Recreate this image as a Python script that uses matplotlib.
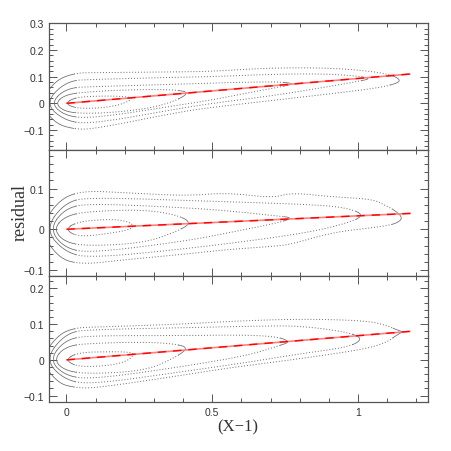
import matplotlib
matplotlib.use("Agg")
import matplotlib.pyplot as plt
from matplotlib.ticker import MultipleLocator, FixedLocator, FuncFormatter
import numpy as np

# ---------------- data ----------------
fit_x = [0.0, 1.18]
fit_y_top = [0.0, 0.110]
fit_y_mid = [0.0, 0.039]
fit_y_bot = [0.0, 0.080]

# contours (inner -> outer): left tip, x stations, upper edge, lower edge, right tip
top_left = [(-0.005, 0.0), (-0.04, 0.0), (-0.055, 0.0), (-0.075, 0.0), (-0.09, 0.0)]
top_x = [[0.03, 0.1, 0.18],
         [0.0, 0.1, 0.2, 0.3, 0.38],
         [0.0, 0.1, 0.39, 0.5, 0.65, 0.74],
         [0.0, 0.1, 0.39, 0.5, 0.73, 0.9, 1.0],
         [-0.04, 0.03, 0.1, 0.39, 0.5, 0.7, 0.9, 1.05, 1.12]]
top_up = [[0.022, 0.027, 0.027],
          [0.035, 0.045, 0.05, 0.052, 0.05],
          [0.058, 0.063, 0.072, 0.076, 0.08, 0.08],
          [0.085, 0.09, 0.098, 0.1, 0.11, 0.11, 0.102],
          [0.085, 0.114, 0.115, 0.118, 0.12, 0.133, 0.133, 0.12, 0.105]]
top_lo = [[-0.018, -0.019, -0.008],
          [-0.035, -0.038, -0.03, -0.015, 0.012],
          [-0.05, -0.055, -0.006, 0.013, 0.045, 0.063],
          [-0.07, -0.075, -0.019, 0.0, 0.032, 0.063, 0.082],
          [-0.075, -0.098, -0.095, -0.032, -0.015, 0.01, 0.035, 0.055, 0.07]]
top_tip = [(0.235, 0.02), (0.42, 0.04), (0.78, 0.073), (1.045, 0.093), (1.148, 0.085)]

mid_left = [(-0.005, 0.0), (-0.046, 0.0), (-0.06, 0.0), (-0.075, 0.0), (-0.09, 0.0)]
mid_x = [[0.04, 0.15, 0.21],
         [0.0, 0.1, 0.27, 0.38],
         [0.0, 0.1, 0.41, 0.56, 0.72],
         [0.0, 0.1, 0.45, 0.8, 0.95],
         [-0.03, 0.05, 0.2, 0.41, 0.55, 0.71, 0.77, 0.91, 1.05, 1.09, 1.13]]
mid_up = [[0.019, 0.025, 0.02],
          [0.035, 0.045, 0.048, 0.035],
          [0.055, 0.063, 0.053, 0.045, 0.033],
          [0.07, 0.078, 0.07, 0.062, 0.055],
          [0.07, 0.095, 0.09, 0.082, 0.09, 0.077, 0.09, 0.08, 0.074, 0.06, 0.045]]
mid_lo = [[-0.019, -0.01, -0.002],
          [-0.035, -0.041, -0.033, -0.005],
          [-0.05, -0.057, -0.029, -0.008, 0.015],
          [-0.06, -0.07, -0.045, -0.012, 0.012],
          [-0.07, -0.087, -0.075, -0.061, -0.05, -0.042, -0.037, -0.008, 0.004, 0.008, 0.014]]
mid_tip = [(0.234, 0.007), (0.43, 0.016), (0.78, 0.028), (1.028, 0.035), (1.154, 0.027)]

bot_left = [(-0.005, 0.0), (-0.045, 0.0), (-0.06, 0.0), (-0.075, 0.0), (-0.09, 0.0)]
bot_x = [[0.04, 0.15, 0.21],
         [0.0, 0.1, 0.27, 0.37],
         [0.0, 0.1, 0.39, 0.62, 0.73],
         [0.0, 0.1, 0.39, 0.62, 0.8, 0.97],
         [-0.03, 0.03, 0.1, 0.39, 0.56, 0.8, 1.03, 1.1, 1.13]]
bot_up = [[0.021, 0.023, 0.022],
          [0.04, 0.047, 0.05, 0.045],
          [0.06, 0.068, 0.068, 0.07, 0.064],
          [0.078, 0.085, 0.09, 0.094, 0.096, 0.077],
          [0.07, 0.09, 0.092, 0.1, 0.108, 0.115, 0.11, 0.096, 0.085]]
bot_lo = [[-0.02, -0.016, -0.003],
          [-0.033, -0.039, -0.03, 0.005],
          [-0.047, -0.053, -0.02, 0.012, 0.04],
          [-0.06, -0.067, -0.034, -0.007, 0.017, 0.036],
          [-0.065, -0.078, -0.079, -0.044, -0.022, 0.003, 0.031, 0.05, 0.068]]
bot_tip = [(0.234, 0.017), (0.42, 0.034), (0.766, 0.05), (1.017, 0.059), (1.154, 0.079)]

ylims = [(-0.175, 0.30), (-0.115, 0.195), (-0.118, 0.235)]
xlim = (-0.06, 1.24)

# ---------------- drawing ----------------
W = 452
fig = plt.figure(figsize=(W / 100, W / 100), dpi=100)

def fx(px):
    return px / W

left_px, right_px = 49, 428
panel_px = [(24.3, 151), (151, 277), (277, 403)]

def chaikin(px, py, n=3):
    P = np.column_stack([px, py])[:-1]
    for _ in range(n):
        Q = 0.75 * P + 0.25 * np.roll(P, -1, axis=0)
        R = 0.25 * P + 0.75 * np.roll(P, -1, axis=0)
        P = np.empty((2 * len(Q), 2))
        P[0::2] = Q
        P[1::2] = R
    P = np.vstack([P, P[:1]])
    return P[:, 0], P[:, 1]

LC = "#6a6a6a"

def draw_contour(ax, idx, left, xs, up, lo, tip):
    px = [left[0]] + list(xs) + [tip[0]] + list(xs[::-1]) + [left[0]]
    py = [left[1]] + list(up) + [tip[1]] + list(lo[::-1]) + [left[1]]
    sx, sy = chaikin(px, py)
    mids = 0.5 * (sx[:-1] + sx[1:])
    solid = mids < 0.03
    if idx >= 1:
        solid |= mids > tip[0] - 0.035
    start = 0
    for i in range(1, len(solid) + 1):
        if i == len(solid) or solid[i] != solid[start]:
            seg_x = sx[start:i + 1]
            seg_y = sy[start:i + 1]
            if solid[start]:
                ax.plot(seg_x, seg_y, color=LC, lw=0.55, ls="-")
            else:
                ax.plot(seg_x, seg_y, color=LC, lw=0.7, ls=(0, (1, 2.0)))
            start = i

def fmt(v, pos):
    s = "%g" % round(v, 3)
    if s == "-0":
        s = "0"
    return s.replace("-", "\u2212")

panels = [
    (top_left, top_x, top_up, top_lo, top_tip, fit_y_top, [-0.1, 0, 0.1, 0.2, 0.3]),
    (mid_left, mid_x, mid_up, mid_lo, mid_tip, fit_y_mid, [-0.1, 0, 0.1]),
    (bot_left, bot_x, bot_up, bot_lo, bot_tip, fit_y_bot, [-0.1, 0, 0.1, 0.2]),
]

axes = []
for k, (lefts, xs_l, ups, los, tips, fity, yt) in enumerate(panels):
    t, b = panel_px[k]
    ax = fig.add_axes([fx(left_px), 1 - b / W, fx(right_px - left_px), (b - t) / W])
    for i in range(5):
        draw_contour(ax, i, lefts[i], xs_l[i], ups[i], los[i], tips[i])
    ax.plot(fit_x, fity, color="#ff8080", lw=1.2, solid_capstyle="butt")
    ax.plot(fit_x, fity, color="#ff0000", lw=1.0, ls=(0, (6, 5)))
    ax.set_xlim(*xlim)
    ax.set_ylim(*ylims[k])
    ax.yaxis.set_major_locator(FixedLocator(yt))
    ax.yaxis.set_minor_locator(MultipleLocator(0.02))
    ax.xaxis.set_major_locator(FixedLocator([0, 0.5, 1]))
    ax.xaxis.set_minor_locator(MultipleLocator(0.1))
    ax.yaxis.set_major_formatter(FuncFormatter(fmt))
    ax.xaxis.set_major_formatter(FuncFormatter(fmt))
    ax.tick_params(which="both", direction="in", top=True, right=True,
                   colors="#555555", labelsize=7.5, width=0.7)
    ax.tick_params(which="major", length=6)
    ax.tick_params(which="minor", length=3)
    for lab in ax.get_xticklabels() + ax.get_yticklabels():
        lab.set_fontfamily("Liberation Sans")
        lab.set_color("#333333")
    for sp in ax.spines.values():
        sp.set_color("#555555")
        sp.set_linewidth(0.9)
    if k < 2:
        ax.tick_params(labelbottom=False)
    axes.append(ax)

fig.text(20 / W, 1 - 213 / W, "residual", family="Liberation Serif", fontsize=13,
         color="#333333", rotation=90, ha="center", va="center")
fig.text(238 / W, 1 - 427 / W, "(X\u22121)", family="Liberation Serif", fontsize=12,
         color="#333333", ha="center", va="center")

fig.savefig("out.png", dpi=100)
